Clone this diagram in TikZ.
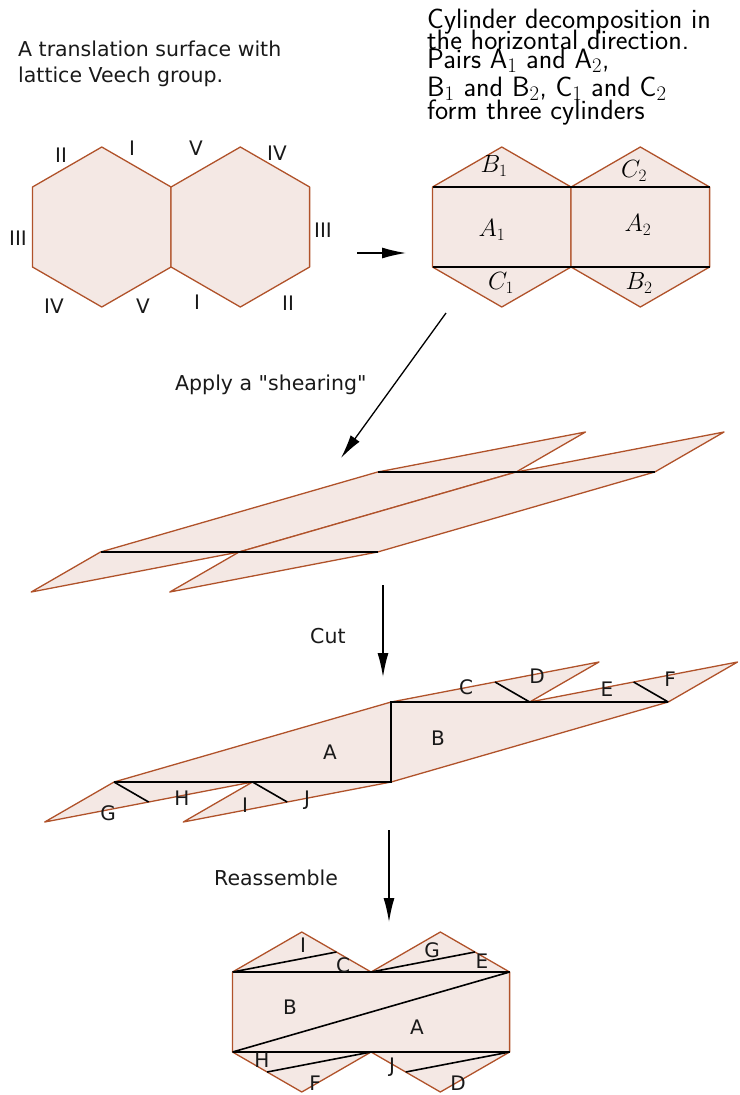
\documentclass[tikz,border=0pt]{standalone}
\usepackage{fontspec}
\newfontfamily\labfont{DejaVu Sans}
\usetikzlibrary{arrows.meta}
\definecolor{hexfill}{HTML}{F4E8E4}
\definecolor{hexedge}{HTML}{B0522A}
\begin{document}
\begin{tikzpicture}[x=1pt,y=-1pt,
  face/.style={fill=hexfill,draw=hexedge,line width=1.3pt,line join=round},
  blackline/.style={draw=black,line width=1.6pt},
  rlab/.style={font=\labfont\fontsize{20}{24}\selectfont,inner sep=0pt,text=black!90},
  mlab/.style={font=\fontsize{25}{28}\selectfont,inner sep=0pt},
  ttext/.style={font=\labfont\fontsize{20.5}{24}\selectfont,inner sep=0pt,anchor=base west,text=black!90},
  stext/.style={font=\sffamily\fontsize{28}{30}\selectfont,inner sep=0pt,anchor=base west},
  flow/.style={-{Latex[length=24pt,width=11pt]},line width=1.3pt}]
\useasboundingbox (0,0) rectangle (739,1095);
\def\u{69.282}

% ---------- texts ----------
\node[ttext] (txt1a) at (18,56) {A translation surface with};
\node[ttext] (txt1b) at (18,82) {lattice Veech group.};
\node[stext] (txt2a) at (427,28) {Cylinder decomposition in};
\node[stext] (txt2b) at (427,49) {the horizontal direction.};
\node[stext] (txt2c) at (427,68) {Pairs A$_1$ and A$_2$,};
\node[stext] (txt2d) at (427,96) {B$_1$ and B$_2$, C$_1$ and C$_2$};
\node[stext] (txt2e) at (427,119) {form three cylinders};
\node[ttext] (txt3) at (175,390) {Apply a "shearing"};
\node[ttext] (txt4) at (310,643) {Cut};
\node[ttext] (txt5) at (214,885) {Reassemble};

% ---------- figure 1: two hexagons ----------
\begin{scope}[shift={(32.5,267)},yscale=-1]
 \draw[face] (0,0) -- (0,80) -- ({\u},120) -- ({2*\u},80) -- ({2*\u},0) -- ({\u},-40) -- cycle;
 \draw[face] ({2*\u},0) -- ({2*\u},80) -- ({3*\u},120) -- ({4*\u},80) -- ({4*\u},0) -- ({3*\u},-40) -- cycle;
\end{scope}
\node[rlab] (l1a) at (61,155) {II};
\node[rlab] (l1b) at (132,148) {I};
\node[rlab] (l1c) at (196,148) {V};
\node[rlab] (l1d) at (277,153) {IV};
\node[rlab] (l1e) at (18,238) {III};
\node[rlab] (l1f) at (323,230) {III};
\node[rlab] (l1g) at (54,306) {IV};
\node[rlab] (l1h) at (143,306) {V};
\node[rlab] (l1i) at (197,302) {I};
\node[rlab] (l1j) at (288,303) {II};

% ---------- figure 2: cylinders ----------
\begin{scope}[shift={(432.5,267)},yscale=-1]
 \draw[face] (0,0) -- (0,80) -- ({\u},120) -- ({2*\u},80) -- ({2*\u},0) -- ({\u},-40) -- cycle;
 \draw[face] ({2*\u},0) -- ({2*\u},80) -- ({3*\u},120) -- ({4*\u},80) -- ({4*\u},0) -- ({3*\u},-40) -- cycle;
 \draw[blackline] (0,0) -- ({4*\u},0);
 \draw[blackline] (0,80) -- ({4*\u},80);
\end{scope}
\node[mlab] (m1) at (494,166) {$B_1$};
\node[mlab] (m2) at (634,171) {$C_2$};
\node[mlab] (m3) at (492,230) {$A_1$};
\node[mlab] (m4) at (638,225) {$A_2$};
\node[mlab] (m5) at (501,283) {$C_1$};
\node[mlab] (m6) at (639,283) {$B_2$};

% ---------- figure 3: sheared ----------
\begin{scope}[shift={(100.5,552)},yscale=-1]
 \draw[face] (0,0) -- ({4*\u},80) -- ({7*\u},120) -- ({6*\u},80) -- ({2*\u},0) -- ({-\u},-40) -- cycle;
 \draw[face] ({2*\u},0) -- ({6*\u},80) -- ({9*\u},120) -- ({8*\u},80) -- ({4*\u},0) -- ({\u},-40) -- cycle;
 \draw[blackline] (0,0) -- ({4*\u},0);
 \draw[blackline] ({4*\u},80) -- ({8*\u},80);
\end{scope}

% ---------- figure 4: cut ----------
\begin{scope}[shift={(114,782)},yscale=-1]
 \draw[face] (0,0) -- ({-\u},-40) -- ({2*\u},0) -- ({\u},-40) -- ({4*\u},0) -- ({8*\u},80)
   -- ({9*\u},120) -- ({6*\u},80) -- ({7*\u},120) -- ({4*\u},80) -- cycle;
 \draw[blackline] (0,0) -- ({4*\u},0) -- ({4*\u},80) -- ({8*\u},80);
 \draw[blackline] ({6*\u},80) -- ({5.5*\u},100);
 \draw[blackline] ({8*\u},80) -- ({7.5*\u},100);
 \draw[blackline] (0,0) -- ({0.5*\u},-20);
 \draw[blackline] ({2*\u},0) -- ({2.5*\u},-20);
\end{scope}
\node[rlab] (c1) at (330,752) {A};
\node[rlab] (c2) at (438,738) {B};
\node[rlab] (c3) at (466,687) {C};
\node[rlab] (c4) at (537,676) {D};
\node[rlab] (c5) at (607,689) {E};
\node[rlab] (c6) at (670,679) {F};
\node[rlab] (c7) at (108,813) {G};
\node[rlab] (c8) at (182,798) {H};
\node[rlab] (c9) at (245,805) {I};
\node[rlab] (c10) at (307,800) {J};

% ---------- figure 5: reassembled ----------
\begin{scope}[shift={(232.5,1052)},yscale=-1]
 \draw[face] (0,0) -- ({\u},-40) -- ({2*\u},0) -- ({3*\u},-40) -- ({4*\u},0) -- ({4*\u},80)
   -- ({3*\u},120) -- ({2*\u},80) -- ({\u},120) -- (0,80) -- cycle;
 \draw[blackline] (0,0) -- ({4*\u},0);
 \draw[blackline] (0,80) -- ({4*\u},80);
 \draw[blackline] (0,0) -- ({4*\u},80);
 \draw[blackline] (0,80) -- ({1.5*\u},100);
 \draw[blackline] ({2*\u},80) -- ({3.5*\u},100);
 \draw[blackline] ({2*\u},0) -- ({0.5*\u},-20);
 \draw[blackline] ({4*\u},0) -- ({2.5*\u},-20);
\end{scope}
\node[rlab] (r1) at (303,945) {I};
\node[rlab] (r2) at (343,965) {C};
\node[rlab] (r3) at (432,950) {G};
\node[rlab] (r4) at (482,961) {E};
\node[rlab] (r5) at (290,1007) {B};
\node[rlab] (r6) at (417,1027) {A};
\node[rlab] (r7) at (262,1060) {H};
\node[rlab] (r8) at (315,1083) {F};
\node[rlab] (r9) at (392,1067) {J};
\node[rlab] (r10) at (458,1083) {D};

% ---------- arrows ----------
\coordinate (a1s) at (357,253);
\coordinate (a1e) at (406,253);
\coordinate (a2s) at (446,313);
\coordinate (a2e) at (341,458);
\coordinate (a3s) at (383,585);
\coordinate (a3e) at (383,677);
\coordinate (a4s) at (389,830);
\coordinate (a4e) at (389,922);
\draw[flow] (a1s) -- (a1e);
\draw[flow] (a2s) -- (a2e);
\draw[flow] (a3s) -- (a3e);
\draw[flow] (a4s) -- (a4e);
\end{tikzpicture}
\end{document}
